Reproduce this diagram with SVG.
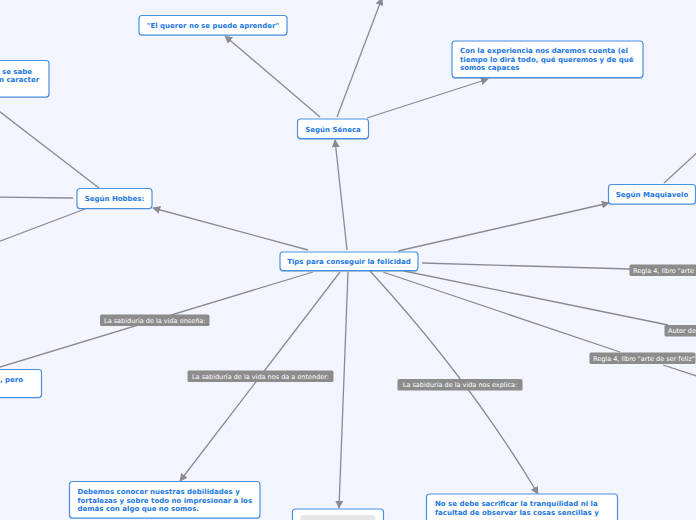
<svg xmlns="http://www.w3.org/2000/svg" width="696" height="520" viewBox="0 0 696 520">
<defs>
<marker id="arr" viewBox="0 0 10 10" refX="9" refY="5" markerWidth="8" markerHeight="8" markerUnits="userSpaceOnUse" orient="auto">
<path d="M0,0 L10,5 L0,10 z" fill="#8a8a92"/>
</marker>
<style>
.bg{fill:#f2f5fd}
.c{fill:none;stroke:#8a8a92;stroke-width:1.3}
.n{fill:#fff;stroke:#4a90e2;stroke-width:1.2}
.sh{fill:#5a8cc8;opacity:0.55}
.t{font-family:"DejaVu Sans",Verdana,sans-serif;font-weight:bold;font-size:7px;fill:#2277e0}
.lb{fill:#8c8c8c}
.lt{font-family:"DejaVu Sans",Verdana,sans-serif;font-size:6.5px;fill:#fff}
</style>
</defs>
<rect class="bg" x="0" y="0" width="696" height="520"/>
<g id="connectors">
<line class="c" x1="347" y1="250" x2="335" y2="140" marker-end="url(#arr)"/>
<line class="c" x1="308" y1="250" x2="153" y2="208" marker-end="url(#arr)"/>
<line class="c" x1="398" y1="251" x2="609" y2="203" marker-end="url(#arr)"/>
<line class="c" x1="422" y1="263" x2="630" y2="269"/>
<line class="c" x1="404" y1="271" x2="668" y2="325"/>
<line class="c" x1="383" y1="272" x2="620" y2="352"/>
<line class="c" x1="663" y1="365" x2="700" y2="377"/>
<path class="c" d="M370,271 Q470,380 538,494" marker-end="url(#arr)"/>
<line class="c" x1="340" y1="272" x2="180" y2="481" marker-end="url(#arr)"/>
<line class="c" x1="348" y1="272" x2="339" y2="508" marker-end="url(#arr)"/>
<line class="c" x1="313" y1="272" x2="-10" y2="370"/>
<line class="c" x1="99" y1="188" x2="-5" y2="108"/>
<line class="c" x1="73" y1="198" x2="-5" y2="197"/>
<line class="c" x1="85" y1="209" x2="-5" y2="243"/>
<line class="c" x1="320" y1="117" x2="225" y2="36" marker-end="url(#arr)"/>
<line class="c" x1="337" y1="117" x2="382" y2="-2" marker-end="url(#arr)"/>
<line class="c" x1="367" y1="118" x2="488" y2="79" marker-end="url(#arr)"/>
<line class="c" x1="664" y1="183" x2="700" y2="150"/>
</g>
<g id="lbl-ensena">
<rect class="lb" x="100" y="314.5" width="109.5" height="11.5" rx="1.5"/>
<text class="lt" x="154.75" y="322.8" text-anchor="middle">La sabiduría de la vida enseña:</text>
</g>
<g id="lbl-entender">
<rect class="lb" x="187.5" y="370.5" width="146" height="11.5" rx="1.5"/>
<text class="lt" x="260.5" y="378.8" text-anchor="middle">La sabiduría de la vida nos da a entender:</text>
</g>
<g id="lbl-explica">
<rect class="lb" x="397.5" y="379" width="125" height="11.5" rx="1.5"/>
<text class="lt" x="460" y="387.3" text-anchor="middle">La sabiduría de la vida nos explica:</text>
</g>
<g id="lbl-regla2">
<rect class="lb" x="589.5" y="352.5" width="106" height="11.5" rx="1.5"/>
<text class="lt" x="593" y="360.8">Regla 4, libro "arte de ser feliz"</text>
</g>
<g id="lbl-autor">
<rect class="lb" x="664.5" y="325" width="40" height="11.5" rx="1.5"/>
<text class="lt" x="668" y="333.3">Autor de</text>
</g>
<g id="lbl-regla1">
<rect class="lb" x="629.5" y="264.5" width="80" height="11.5" rx="1.5"/>
<text class="lt" x="633" y="272.8">Regla 4, libro "arte</text>
</g>
<g id="n-center">
<rect class="sh" x="280" y="253.5" width="138" height="18.5" rx="3"/>
<rect class="n" x="280" y="252" width="138" height="18.5" rx="3"/>
<text class="t" x="349" y="264" text-anchor="middle">Tips para conseguir la felicidad</text>
</g>
<g id="n-seneca">
<rect class="sh" x="297.5" y="120.5" width="71" height="19.5" rx="3"/>
<rect class="n" x="297.5" y="119" width="71" height="19.5" rx="3"/>
<text class="t" x="333" y="131.5" text-anchor="middle">Según Séneca</text>
</g>
<g id="n-querer">
<rect class="sh" x="139" y="16.5" width="148" height="19.5" rx="3"/>
<rect class="n" x="139" y="15.5" width="148" height="19.5" rx="3"/>
<text class="t" x="213" y="27.5" text-anchor="middle">"El querer no se puede aprender"</text>
</g>
<g id="n-experiencia">
<rect class="sh" x="452" y="42.5" width="191" height="36.5" rx="3"/>
<rect class="n" x="452" y="41" width="191" height="36.5" rx="3"/>
<text class="t" x="460" y="53">Con la experiencia nos daremos cuenta (el</text>
<text class="t" x="460" y="61.5">tiempo lo dirá todo, qué queremos y de qué</text>
<text class="t" x="460" y="70">somos capaces</text>
</g>
<g id="n-hobbes">
<rect class="sh" x="77" y="189.5" width="75" height="20" rx="3"/>
<rect class="n" x="77" y="188.5" width="75" height="20" rx="3"/>
<text class="t" x="114.5" y="201" text-anchor="middle">Según Hobbes:</text>
</g>
<g id="n-maquiavelo">
<rect class="sh" x="608.5" y="185.5" width="87" height="19.5" rx="3"/>
<rect class="n" x="608.5" y="184.5" width="87" height="19.5" rx="3"/>
<text class="t" x="652" y="197" text-anchor="middle">Según Maquiavelo</text>
</g>
<g id="n-topleft">
<rect class="sh" x="-20" y="61.5" width="69" height="36.5" rx="3"/>
<rect class="n" x="-20" y="60.5" width="69" height="36.5" rx="3"/>
<text class="t" x="2" y="73.5">se sabe</text>
<text class="t" x="-1" y="82">n caracter</text>
</g>
<g id="n-bottomleft">
<rect class="sh" x="-20" y="370.5" width="61.5" height="28" rx="3"/>
<rect class="n" x="-20" y="369.5" width="61.5" height="28" rx="3"/>
<text class="t" x="0" y="382">, pero</text>
</g>
<g id="n-debemos">
<rect class="sh" x="69.5" y="482.5" width="190.5" height="36.5" rx="3"/>
<rect class="n" x="69.5" y="481.5" width="190.5" height="36.5" rx="3"/>
<text class="t" x="77.5" y="494">Debemos conocer nuestras debilidades y</text>
<text class="t" x="77.5" y="502.5">fortalezas y sobre todo no impresionar a los</text>
<text class="t" x="77.5" y="511">demás con algo que no somos.</text>
</g>
<g id="n-bottommid">
<rect class="sh" x="292.5" y="510.5" width="91" height="20" rx="3"/>
<rect class="n" x="292.5" y="509" width="91" height="20" rx="3"/>
<rect x="300.5" y="515" width="75" height="12" rx="3" fill="#e6e6e8"/>
</g>
<g id="n-nosedebe">
<rect class="sh" x="426.5" y="495.5" width="191" height="36" rx="3"/>
<rect class="n" x="426.5" y="494" width="191" height="36" rx="3"/>
<text class="t" x="435" y="506">No se debe sacrificar la tranquilidad ni la</text>
<text class="t" x="435" y="514.5">facultad de observar las cosas sencillas y</text>
</g>
</svg>
